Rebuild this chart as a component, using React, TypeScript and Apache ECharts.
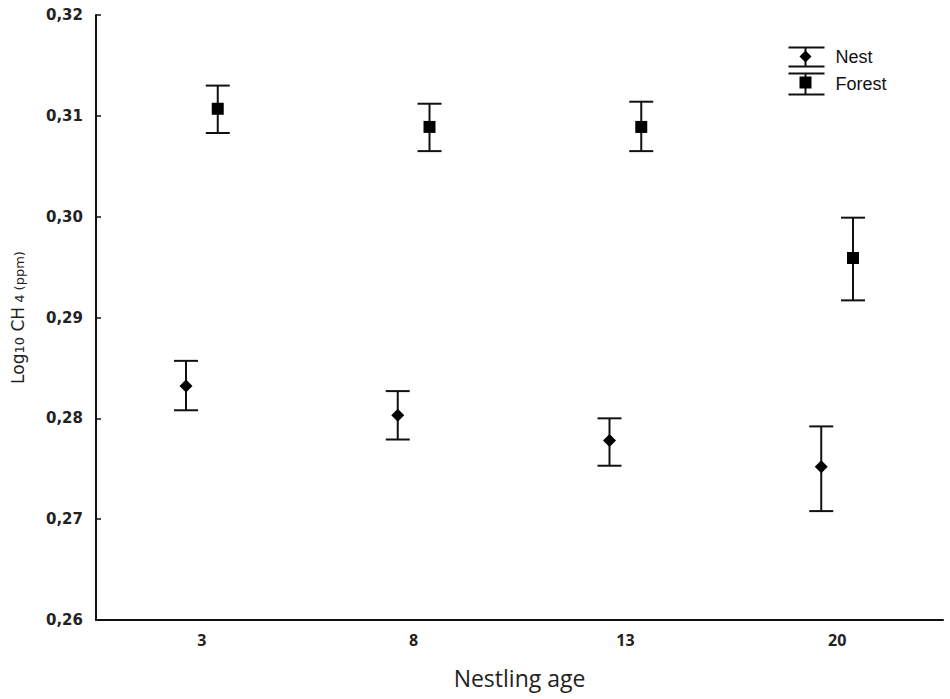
import React, { useEffect, useRef } from "react";
import * as echarts from "echarts";

const categories = ["3", "8", "13", "20"];
const nestMean = [0.2832, 0.2803, 0.2778, 0.2752];
const nestHigh = [0.2857, 0.2827, 0.28, 0.2792];
const nestLow = [0.2808, 0.2779, 0.2753, 0.2708];
const forestMean = [0.3107, 0.3089, 0.3089, 0.2959];
const forestHigh = [0.313, 0.3112, 0.3114, 0.2999];
const forestLow = [0.3083, 0.3065, 0.3065, 0.2917];

const yMin = 0.26;
const yMax = 0.32;
const yStep = 0.01;

function makeRender(kind: "diamond" | "square", offsetFrac: number) {
  return (params: any, api: any) => {
    const idx = api.value(0);
    const mean = api.value(1);
    const low = api.value(2);
    const high = api.value(3);
    const band = api.size([1, 0])[0];
    const off = band * offsetFrac;
    const pm = api.coord([idx, mean]);
    const pl = api.coord([idx, low]);
    const ph = api.coord([idx, high]);
    const x = pm[0] + off;
    const cap = 12;
    const st = { stroke: "#111", lineWidth: 2 };
    const children: any[] = [
      { type: "line", shape: { x1: x, y1: ph[1], x2: x, y2: pl[1] }, style: st },
      { type: "line", shape: { x1: x - cap, y1: ph[1], x2: x + cap, y2: ph[1] }, style: st },
      { type: "line", shape: { x1: x - cap, y1: pl[1], x2: x + cap, y2: pl[1] }, style: st },
    ];
    if (kind === "diamond") {
      const h = 6.5;
      children.push({
        type: "polygon",
        shape: { points: [[x, pm[1] - h], [x + h, pm[1]], [x, pm[1] + h], [x - h, pm[1]]] },
        style: { fill: "#000" },
      });
    } else {
      const h = 6;
      children.push({
        type: "rect",
        shape: { x: x - h, y: pm[1] - h, width: 2 * h, height: 2 * h },
        style: { fill: "#000" },
      });
    }
    return { type: "group", children };
  };
}

export default function App() {
  const ref = useRef<HTMLDivElement>(null);
  useEffect(() => {
    if (!ref.current) return;
    const chart = echarts.init(ref.current, null, { renderer: "svg" });
    const nestData = categories.map((_, i) => [i, nestMean[i], nestLow[i], nestHigh[i]]);
    const forestData = categories.map((_, i) => [i, forestMean[i], forestLow[i], forestHigh[i]]);
    const lst = { stroke: "#111", lineWidth: 2 };
    chart.setOption({
      animation: false,
      backgroundColor: "#fff",
      grid: { left: 96, right: 7, top: 15, bottom: 79 },
      xAxis: {
        type: "category",
        data: categories,
        boundaryGap: true,
        name: "Nestling age",
        nameLocation: "middle",
        nameGap: 46,
        nameTextStyle: { fontFamily: "Open Sans", fontSize: 23, color: "#222" },
        axisLine: { lineStyle: { color: "#111", width: 2 } },
        axisTick: { inside: true, length: 5, alignWithLabel: true, lineStyle: { color: "#111", width: 1.5 } },
        axisLabel: { margin: 12, fontFamily: "Open Sans", fontWeight: "bold", fontSize: 16, color: "#222" },
        splitLine: { show: false },
      },
      yAxis: {
        type: "value",
        min: yMin,
        max: yMax,
        interval: yStep,
        name: "{a|Log}{s|10}{a| CH}{s| 4 (ppm)}",
        nameLocation: "middle",
        nameGap: 70,
        nameRotate: 90,
        nameTextStyle: {
          rich: {
            a: { fontFamily: "DejaVu Sans", fontSize: 17, color: "#222", verticalAlign: "bottom", lineHeight: 22 },
            s: { fontFamily: "DejaVu Sans", fontSize: 13, color: "#222", verticalAlign: "bottom", lineHeight: 14 },
          },
        },
        axisLine: { show: true, lineStyle: { color: "#111", width: 2 } },
        axisTick: { show: true, inside: true, length: 5, lineStyle: { color: "#111", width: 1.5 } },
        axisLabel: {
          margin: 13,
          fontFamily: "DejaVu Sans",
          fontWeight: "bold",
          fontSize: 15,
          color: "#222",
          formatter: (v: number) => v.toFixed(2).replace(".", ","),
        },
        splitLine: { show: false },
      },
      series: [
        {
          name: "Nest",
          type: "custom",
          renderItem: makeRender("diamond", -0.075),
          encode: { x: 0, y: [1, 2, 3] },
          data: nestData,
        },
        {
          name: "Forest",
          type: "custom",
          renderItem: makeRender("square", 0.075),
          encode: { x: 0, y: [1, 2, 3] },
          data: forestData,
        },
      ],
      graphic: [
        {
          type: "group",
          left: 786,
          top: 45,
          children: [
            { type: "line", shape: { x1: 17, y1: 0, x2: 17, y2: 19 }, style: lst },
            { type: "line", shape: { x1: 0, y1: 0, x2: 36, y2: 0 }, style: lst },
            { type: "line", shape: { x1: 0, y1: 19, x2: 36, y2: 19 }, style: lst },
            { type: "polygon", shape: { points: [[17, 3], [23, 9], [17, 15], [11, 9]] }, style: { fill: "#000" } },
            { type: "line", shape: { x1: 17, y1: 26, x2: 17, y2: 47 }, style: lst },
            { type: "line", shape: { x1: 0, y1: 26, x2: 36, y2: 26 }, style: lst },
            { type: "line", shape: { x1: 0, y1: 47, x2: 36, y2: 47 }, style: lst },
            { type: "rect", shape: { x: 11, y: 29, width: 12, height: 12 }, style: { fill: "#000" } },
            {
              type: "text",
              x: 47,
              y: 9,
              style: { text: "Nest", fontFamily: "Liberation Sans", fontSize: 18, fill: "#111", verticalAlign: "middle" },
            },
            {
              type: "text",
              x: 47,
              y: 36,
              style: { text: "Forest", fontFamily: "Liberation Sans", fontSize: 18, fill: "#111", verticalAlign: "middle" },
            },
          ],
        },
      ],
    });
    return () => chart.dispose();
  }, []);
  return (
    <div
      ref={ref}
      style={{ position: "absolute", left: 0, top: 0, width: 950, height: 699 }}
    />
  );
}
